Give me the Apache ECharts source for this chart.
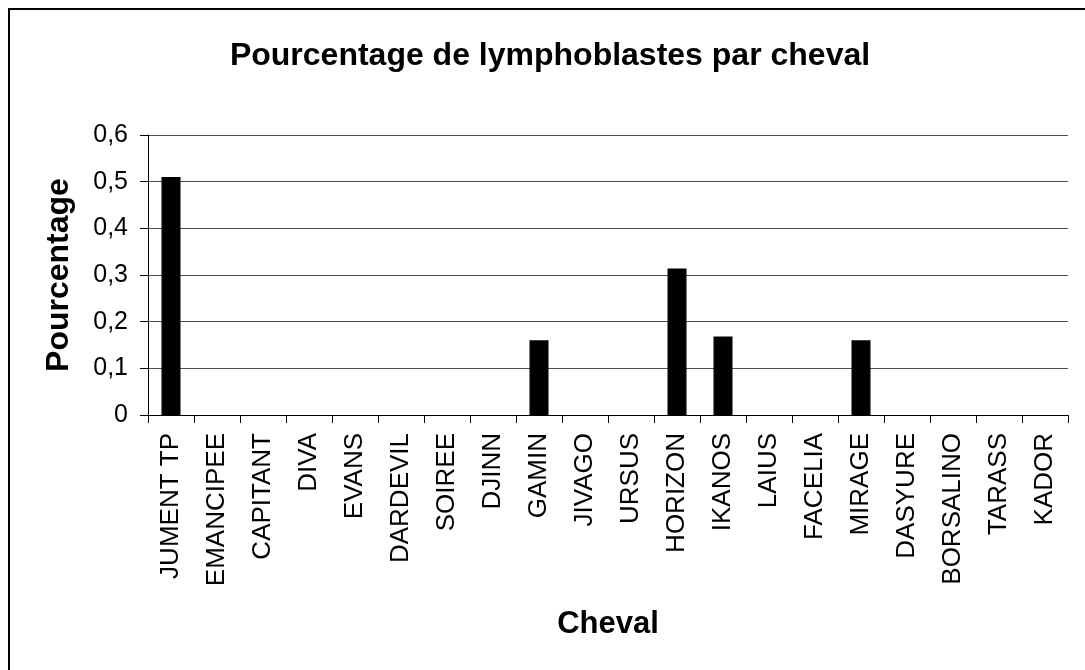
<!DOCTYPE html>
<html>
<head>
<meta charset="utf-8">
<script src="https://cdn.jsdelivr.net/npm/echarts@6/dist/echarts.min.js"></script>
<style>
  html, body { margin: 0; padding: 0; background: #fff; }
  #chart { width: 1085px; height: 670px; }
</style>
</head>
<body>
<div id="chart"></div>
<script>
// Horses (categories) and lymphoblast percentage per horse
const chevaux = ['JUMENT TP', 'EMANCIPEE', 'CAPITANT', 'DIVA', 'EVANS', 'DARDEVIL', 'SOIREE', 'DJINN',
  'GAMIN', 'JIVAGO', 'URSUS', 'HORIZON', 'IKANOS', 'LAIUS', 'FACELIA', 'MIRAGE', 'DASYURE',
  'BORSALINO', 'TARASS', 'KADOR'];
const pourcentages = [0.51, 0, 0, 0, 0, 0, 0, 0, 0.16, 0, 0, 0.314, 0.168, 0, 0, 0.16, 0, 0, 0, 0];
const yTicks = { min: 0, max: 0.6, interval: 0.1 };

const font = 'Liberation Sans, Arial, sans-serif';
const chart = echarts.init(document.getElementById('chart'), null, { renderer: 'canvas' });

chart.setOption({
  backgroundColor: '#ffffff',
  animation: false,
  title: {
    text: 'Pourcentage de lymphoblastes par cheval',
    left: 545,
    textAlign: 'center',
    top: 35,
    textStyle: { fontFamily: font, fontSize: 32, fontWeight: 'bold', color: '#000' }
  },
  graphic: [{
    type: 'rect',
    shape: { x: 9, y: 9, width: 1100, height: 700 },
    style: { fill: 'none', stroke: '#000', lineWidth: 2 },
    silent: true
  }],
  grid: { left: 148, right: 17, top: 135, bottom: 255 },
  xAxis: {
    type: 'category',
    data: chevaux,
    name: 'Cheval',
    nameLocation: 'middle',
    nameGap: 194,
    nameTextStyle: { fontFamily: font, fontSize: 31, fontWeight: 'bold', color: '#000' },
    axisLine: { lineStyle: { color: '#000', width: 1 } },
    axisTick: { show: true, length: 8, inside: false, alignWithLabel: false, lineStyle: { color: '#000' } },
    axisLabel: {
      interval: 0,
      rotate: 90,
      margin: 18,
      fontFamily: font,
      fontSize: 26,
      color: '#000'
    },
    splitLine: { show: false }
  },
  yAxis: {
    type: 'value',
    min: yTicks.min,
    max: yTicks.max,
    interval: yTicks.interval,
    name: 'Pourcentage',
    nameLocation: 'middle',
    nameGap: 73,
    nameTextStyle: { fontFamily: font, fontSize: 32, fontWeight: 'bold', color: '#000' },
    axisLine: { show: true, lineStyle: { color: '#000', width: 1 } },
    axisTick: { show: true, length: 8, lineStyle: { color: '#000' } },
    axisLabel: {
      margin: 20,
      fontFamily: font,
      fontSize: 25,
      color: '#000',
      formatter: v => (Math.round(v * 10) / 10).toString().replace('.', ',')
    },
    splitLine: { show: true, lineStyle: { color: '#4d4d4d', width: 1 } }
  },
  series: [{
    type: 'bar',
    data: pourcentages,
    barWidth: 19,
    itemStyle: { color: '#000' }
  }]
});
</script>
</body>
</html>
